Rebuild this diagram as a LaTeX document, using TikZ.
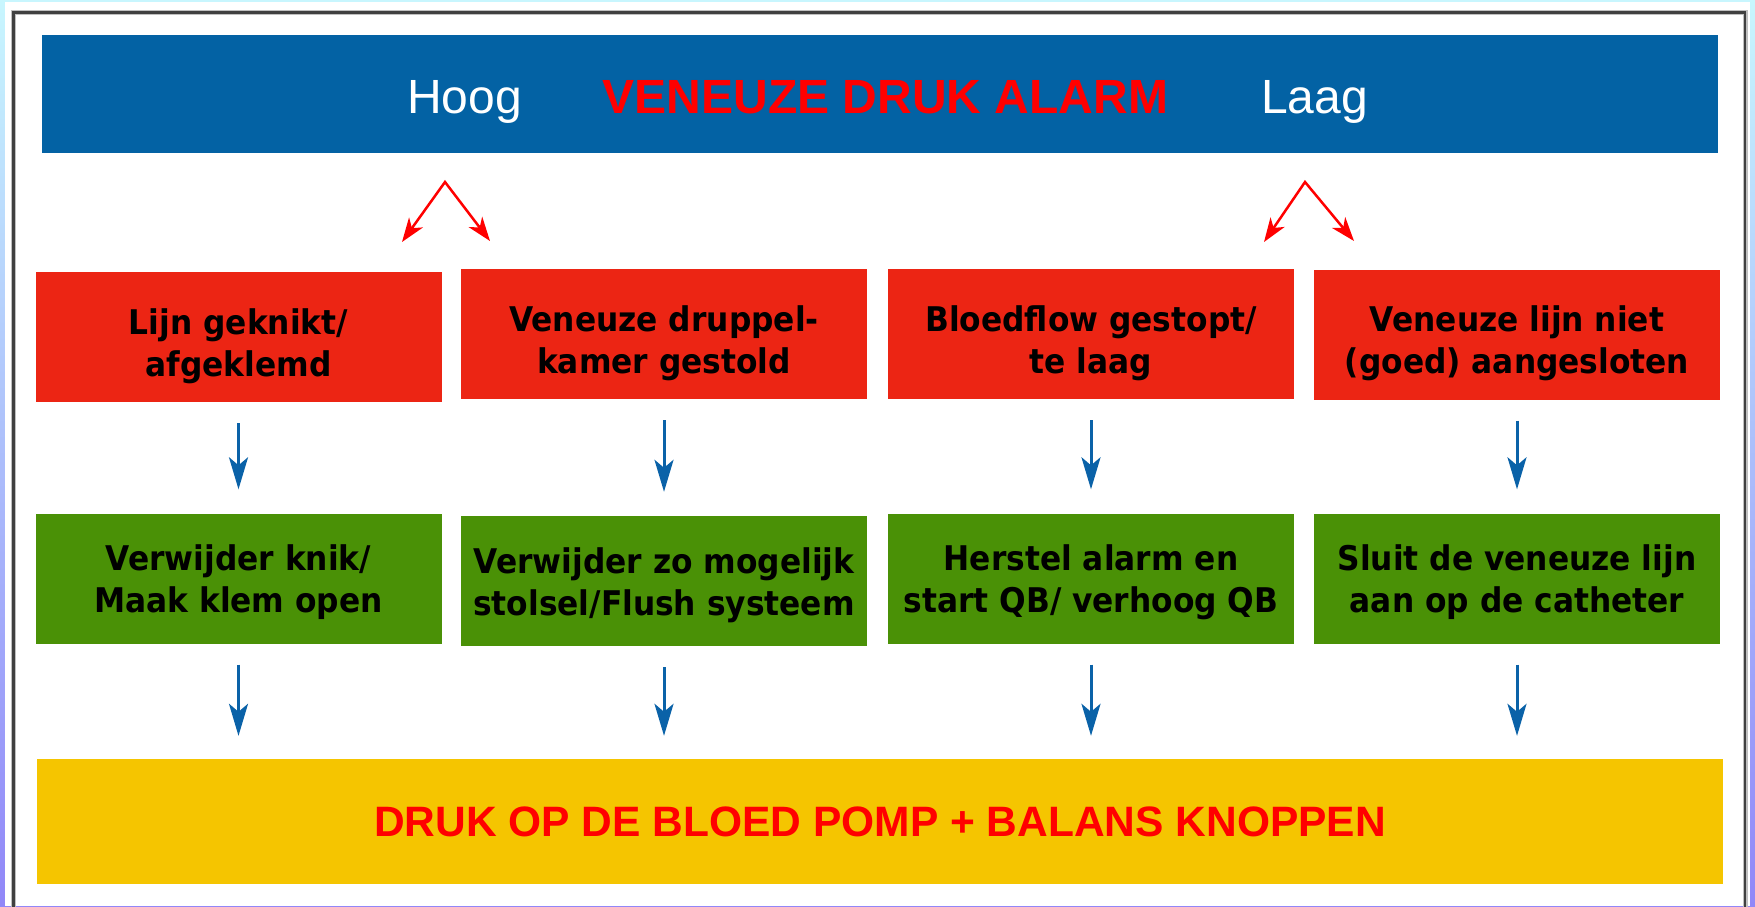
\documentclass[tikz,border=0pt]{standalone}
\usepackage{fontspec}
\setmainfont{Liberation Sans}
\newfontfamily\boxfont{DejaVu Sans Bold}[FakeStretch=0.92]
\usetikzlibrary{arrows.meta}
\definecolor{bandblue}{RGB}{3,98,164}
\definecolor{boxred}{RGB}{236,37,20}
\definecolor{boxgreen}{RGB}{74,145,6}
\definecolor{boxyellow}{RGB}{245,197,0}
\definecolor{arrowblue}{RGB}{10,98,168}
\definecolor{bgtop}{RGB}{200,246,254}
\definecolor{bgbot}{RGB}{145,135,248}
\definecolor{alarmred}{RGB}{255,0,0}
\newcommand\boxstrut{\rule{0pt}{44pt}}
\newcommand\actstrut{\rule{0pt}{34pt}}
\begin{document}
\begin{tikzpicture}[x=1pt,y=-1pt,
  box/.style={rectangle, inner sep=0pt, minimum width=406pt, minimum height=130pt,
    align=center, text=black, font=\boxfont\fontsize{34}{39}\selectfont},
  causebox/.style={box, fill=boxred},
  actionbox/.style={box, fill=boxgreen},
  downarrow/.style={draw=arrowblue, line width=3pt, -{Stealth[length=32pt,width=19pt,inset=8pt]}},
  splitarrow/.style={draw=alarmred, line width=2.5pt,
    {Stealth[length=24pt,width=17pt,inset=7pt]}-{Stealth[length=24pt,width=17pt,inset=7pt]}},
  headtext/.style={anchor=base, inner sep=0pt, font=\fontsize{48}{58}\selectfont}
]
\useasboundingbox (0,0) rectangle (1755,906);
% background and frame
\shade[top color=bgtop, bottom color=bgbot] (0,0) rectangle (1755,906);
\fill[white] (5,2) rectangle (1750,906);
\draw[black!25, line width=5pt] (13.5,12.5) rectangle (1745,930);
\draw[black!75, line width=2.2pt] (13.5,12.5) rectangle (1745,930);

% header band
\node[rectangle, fill=bandblue, inner sep=0pt, minimum width=1676pt, minimum height=118pt] (band) at (880,94) {};
\node[headtext, text=white] (hoog) at (464.5,113) {Hoog};
\node[headtext, text=alarmred, font=\bfseries\fontsize{48}{58}\selectfont] (title) at (885.5,113) {VENEUZE DRUK ALARM};
\node[headtext, text=white] (laag) at (1314.5,113) {Laag};

% split arrows
\coordinate (apexL) at (445,182);
\coordinate (tipLL) at (402,242);
\coordinate (tipLR) at (490,241);
\coordinate (apexR) at (1305,182);
\coordinate (tipRL) at (1264,242);
\coordinate (tipRR) at (1354,241);
\draw[splitarrow] (tipLL) -- (apexL) -- (tipLR);
\draw[splitarrow] (tipRL) -- (apexR) -- (tipRR);

% cause boxes
\node[causebox] (r1) at (238.5,337) {\boxstrut Lijn geknikt/\\[3pt]afgeklemd};
\node[causebox] (r2) at (664,334) {\boxstrut Veneuze druppel-\\[3pt]kamer gestold};
\node[causebox] (r3) at (1091,334) {\boxstrut Bloedflow gestopt/\\[3pt]te laag};
\node[causebox] (r4) at (1517,334.5) {\boxstrut Veneuze lijn niet\\[3pt](goed) aangesloten};

% action boxes
\node[actionbox] (g1) at (238.5,578.5) {\actstrut Verwijder knik/\\[3pt]Maak klem open};
\node[actionbox] (g2) at (664,581) {\actstrut Verwijder zo mogelijk\\[3pt]stolsel/Flush systeem};
\node[actionbox] (g3) at (1091,578.5) {\actstrut Herstel alarm en\\[3pt]start QB/ verhoog QB};
\node[actionbox] (g4) at (1517,578.5) {\actstrut Sluit de veneuze lijn\\[3pt]aan op de catheter};

% bottom bar
\node[rectangle, fill=boxyellow, inner sep=0pt, minimum width=1686pt, minimum height=125pt,
  text=alarmred, font=\bfseries\fontsize{42.5}{50}\selectfont] (yel) at (880,821.5)
  {DRUK OP DE BLOED POMP + BALANS KNOPPEN};

% blue arrows
\foreach \i in {1,2,3,4}{
  \draw[downarrow, shorten <=21pt, shorten >=24pt] (r\i.south) -- (g\i.north);
  \draw[downarrow, shorten <=21pt, shorten >=23pt] (g\i.south) -- (g\i.south |- yel.north);
}
\end{tikzpicture}
\end{document}
